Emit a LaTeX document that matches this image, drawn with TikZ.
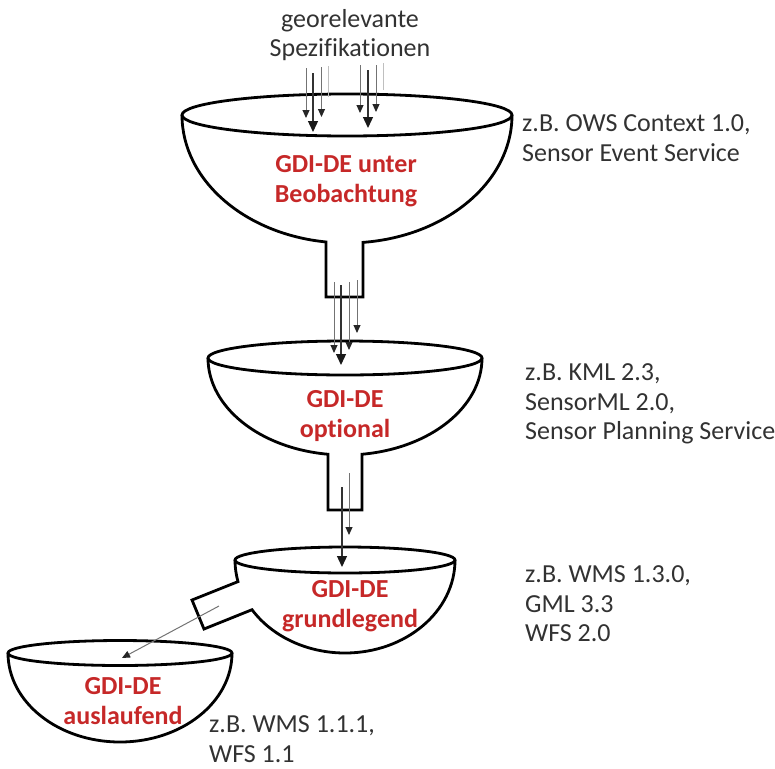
\documentclass[tikz,border=0pt]{standalone}
\usepackage{fontspec}
\setmainfont[Ligatures=NoCommon]{Carlito}
\usepackage{tikz}
\usetikzlibrary{arrows.meta}
\usepackage{xcolor}
\definecolor{gdiRed}{RGB}{198,40,40}
\definecolor{textGrey}{RGB}{50,50,50}
\tikzstyle{rim} = [line width=2.8pt, draw=black]
\tikzstyle{bowl} = [line width=2.8pt, draw=black, line join=miter]
\tikzstyle{feed} = [line width=1pt, draw=black!55, -{Triangle[length=8pt,width=7pt,color=black!85]}]
\tikzstyle{feedMain} = [line width=1.3pt, draw=black!80, -{Triangle[length=11pt,width=10pt,color=black!90]}]
\tikzstyle{feedFaint} = [line width=1pt, draw=black!25]
\tikzset{
	level/.style = {font=\fontsize{26}{29.5}\selectfont\bfseries, text=gdiRed, align=center, inner sep=0pt},
	specList/.style = {font=\fontsize{26}{29.5}\selectfont, text=textGrey, align=left, anchor=west, inner sep=0pt},
	specHead/.style = {font=\fontsize{26}{29.5}\selectfont, text=textGrey, align=center, inner sep=0pt}
}
\begin{document}
\begin{tikzpicture}[x=1pt, y=-1pt]
\useasboundingbox (0,0) rectangle (775,768);
%----------------------------------------------------------------------------
% Funnels (rim ellipse + bowl with stem or spout)
\coordinate (obsRim) at (347,115);
\coordinate (optRim) at (345,358);
\coordinate (baseRim) at (345,560);
\coordinate (outRim) at (120,653);

\draw [rim] (obsRim) ellipse [x radius=165, y radius=21];
\draw [bowl] (512,115) arc [start angle=0, end angle=84.44, x radius=165, y radius=128]
	-- (363,297) -- (326,297) -- (326,241.96)
	arc [start angle=97.31, end angle=180, x radius=165, y radius=128];

\draw [rim] (optRim) ellipse [x radius=137, y radius=17];
\draw [bowl] (482,358) arc [start angle=0, end angle=82.87, x radius=137, y radius=97]
	-- (362,510) -- (328,510) -- (328,454.25)
	arc [start angle=97.13, end angle=180, x radius=137, y radius=97];

\draw [rim] (baseRim) ellipse [x radius=110, y radius=13];
\draw [bowl] (455,560) arc [start angle=0, end angle=147.7, x radius=110, y radius=93]
	-- (204,629) -- (192,600) -- (238,581.6)
	arc [start angle=166.6, end angle=180, x radius=110, y radius=93];

\draw [rim] (outRim) ellipse [x radius=112, y radius=12.5];
\draw [bowl] (232,653) arc [start angle=0, end angle=180, x radius=112, y radius=89];

%----------------------------------------------------------------------------
% Labels
\node (specSource) [specHead] at (350,35) {georelevante\\Spezifikationen};

\node (obsLabel) [level] at (346,181) {GDI-DE unter\\Beobachtung};
\node (optLabel) [level] at (345,416) {GDI-DE\\optional};
\node (baseLabel) [level] at (350,606) {GDI-DE\\grundlegend};
\node (outLabel) [level] at (123,701) {GDI-DE\\auslaufend};

\node (obsExamples) [specList] at (522,138) {z.B. OWS Context 1.0,\\Sensor Event Service};
\node (optExamples) [specList] at (525,404) {z.B. KML 2.3,\\SensorML 2.0,\\Sensor Planning Service};
\node (baseExamples) [specList] at (525,604) {z.B. WMS 1.3.0,\\GML 3.3\\WFS 2.0};
\node (outExamples) [specList] at (209,739) {z.B. WMS 1.1.1,\\WFS 1.1};

%----------------------------------------------------------------------------
% Specification flow lines
\foreach \x/\ya/\yb/\kind [count=\i] in {306/68/118/feed, 313/73/132/feedMain,
	321.5/67/117/feed, 328/66/97/feedFaint, 360/65/113/feed, 368/70/128/feedMain,
	376/65/112/feed, 383/63/90/feedFaint,
	334/282/353/feed, 341/285/365/feedMain, 349/282/350/feed, 357/280/333/feed,
	342/487/567/feedMain, 349/473/535/feed}
{
	\coordinate (flowIn\i) at (\x,\ya);
	\coordinate (flowOut\i) at (\x,\yb);
	\draw [\kind] (flowIn\i) -- (flowOut\i);
}

% spout to the phased-out funnel
\coordinate (spoutIn) at (219,606);
\coordinate (spoutOut) at (122,658);
\draw [feed] (spoutIn) -- (spoutOut);
\end{tikzpicture}
\end{document}
